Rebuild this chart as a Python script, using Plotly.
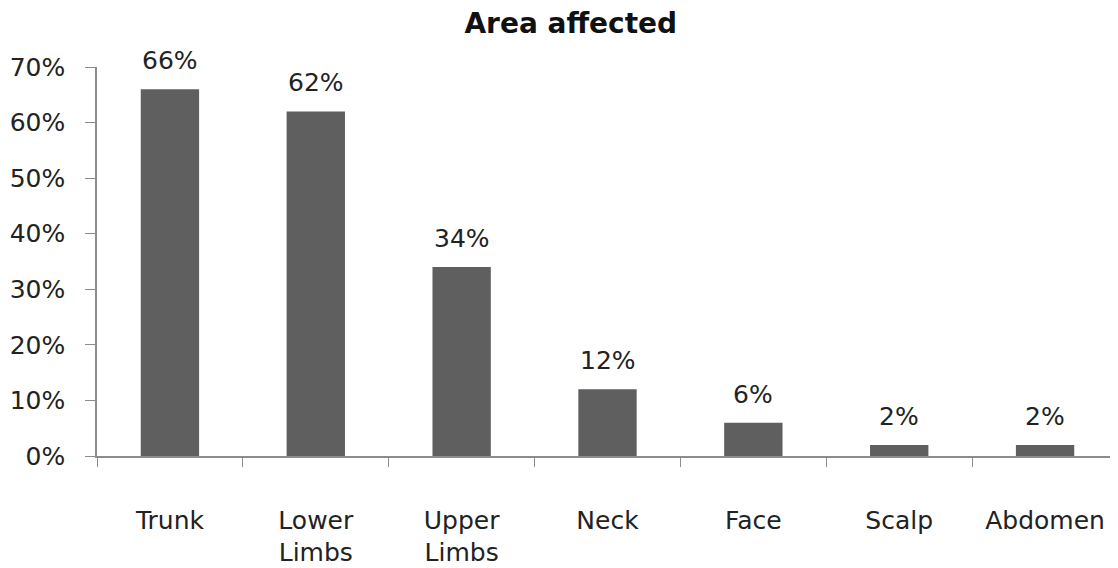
import plotly.graph_objects as go

categories = ["Trunk", "Lower<br>Limbs", "Upper<br>Limbs", "Neck", "Face", "Scalp", "Abdomen"]
values = [66, 62, 34, 12, 6, 2, 2]
labels = [f"{v}%" for v in values]
y_ticks = [0, 10, 20, 30, 40, 50, 60, 70]
y_tick_text = [f"{t}%" for t in y_ticks]

FONT = "DejaVu Sans"
fig = go.Figure(go.Bar(
    x=categories, y=values,
    marker=dict(color="#5f5f5f", line=dict(width=0)),
    width=0.4,
))
for c, v, t in zip(categories, values, labels):
    fig.add_annotation(x=c, y=v, text=t, showarrow=False, yanchor="bottom",
                       yshift=12, font=dict(family=FONT, size=25, color="#222"))
# page body has an 8px margin, so the figure is sized/offset to compensate
fig.update_layout(
    width=1110, height=560,
    margin=dict(l=89, r=0, t=59, b=112, autoexpand=False),
    paper_bgcolor="white", plot_bgcolor="white",
    title=dict(text="<b>Area affected</b>", x=0.507, xanchor="center", y=0.973, yanchor="middle",
               font=dict(family=FONT, size=28, color="#111")),
    font=dict(family=FONT, size=25, color="#222"),
    showlegend=False,
)
fig.update_yaxes(range=[0, 70], tickvals=y_ticks, ticktext=y_tick_text, showgrid=False,
                 showline=True, linecolor="#8c8c8c", linewidth=1.5, ticks="outside",
                 ticklen=10, tickcolor="#8c8c8c", zeroline=False, ticklabelstandoff=15,
                 automargin=False)
fig.update_xaxes(showline=True, linecolor="#8c8c8c", linewidth=1.5, ticks="outside",
                 tickson="boundaries", ticklen=9, tickcolor="#8c8c8c", showgrid=False,
                 ticklabelstandoff=41, automargin=False)
fig.write_html("out.html")
